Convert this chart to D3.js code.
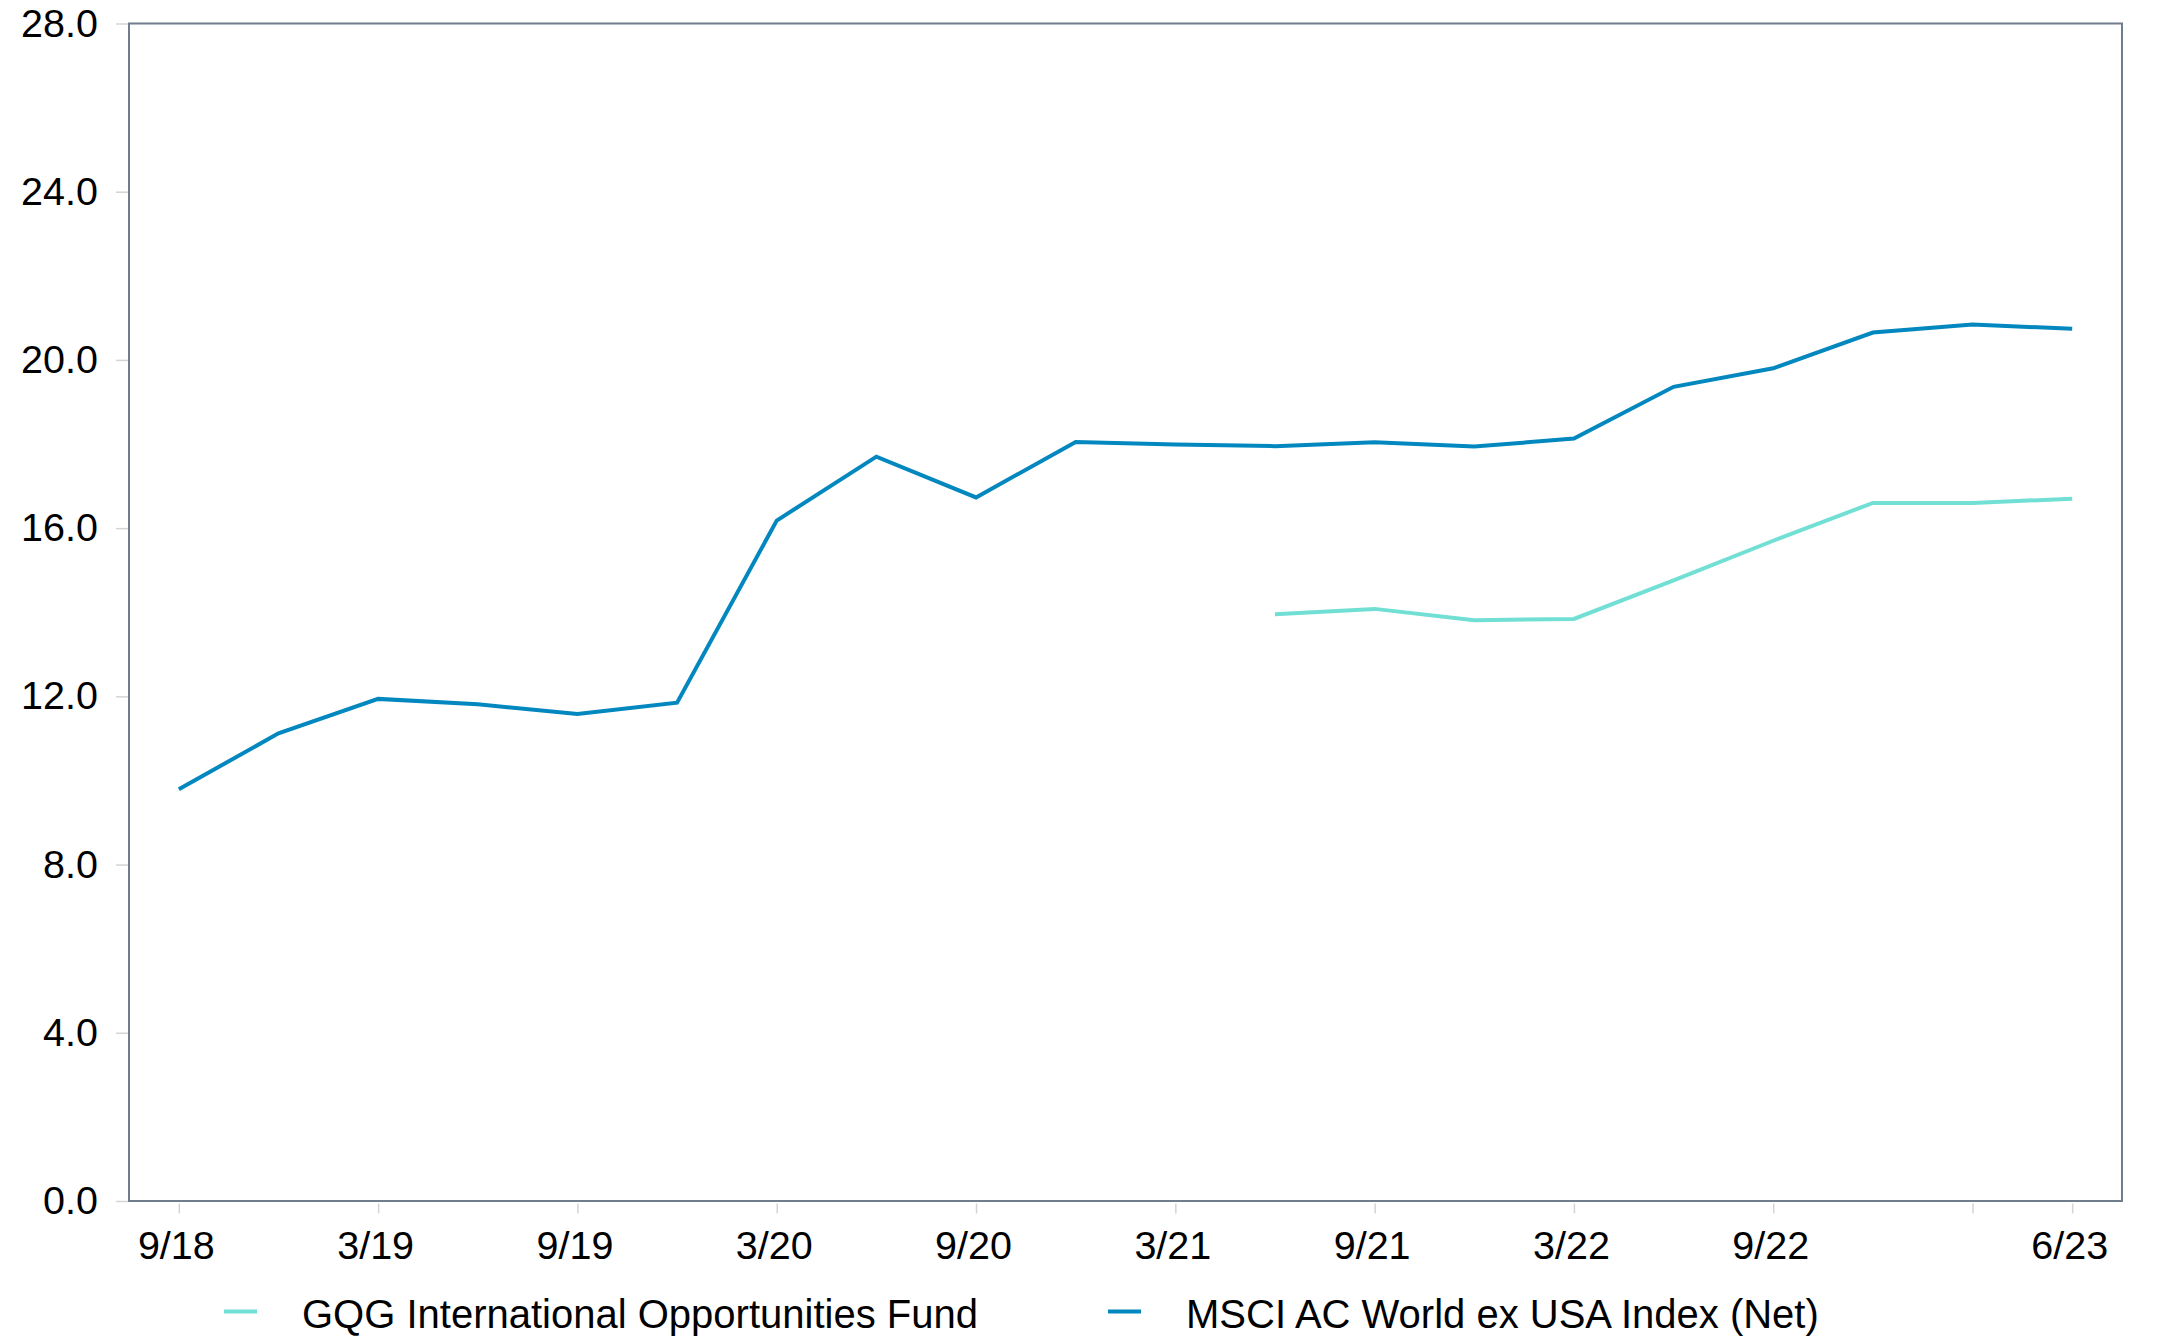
<!DOCTYPE html>
<html>
<head>
<meta charset="utf-8">
<script src="https://cdn.jsdelivr.net/npm/d3@7"></script>
<style>
  html, body { margin: 0; padding: 0; background: #fff; }
  svg { display: block; }
  text { font-family: "Liberation Sans", Arial, Helvetica, sans-serif; fill: #000; }
</style>
</head>
<body>
<svg id="chart" width="2179" height="1338"></svg>
<script>
// ---- data ----
const quarters = ["9/18","12/18","3/19","6/19","9/19","12/19","3/20","6/20","9/20","12/20",
                  "3/21","6/21","9/21","12/21","3/22","6/22","9/22","12/22","3/23","6/23"];
const msciValues = [9.79, 11.12, 11.94, 11.81, 11.58, 11.85, 16.18, 17.70, 16.73, 18.05,
                    17.99, 17.95, 18.04, 17.94, 18.13, 19.36, 19.80, 20.65, 20.84, 20.74];
const gqgValues = [null, null, null, null, null, null, null, null, null, null,
                   null, 13.95, 14.08, 13.81, 13.84, 14.76, 15.70, 16.60, 16.60, 16.70];
const xTickQuarters = ["9/18","3/19","9/19","3/20","9/20","3/21","9/21","3/22","9/22","3/23","6/23"];
const xTickLabels   = ["9/18","3/19","9/19","3/20","9/20","3/21","9/21","3/22","9/22","","6/23"];
const yTicks = [0, 4, 8, 12, 16, 20, 24, 28];
const seriesNames = ["GQG International Opportunities Fund", "MSCI AC World ex USA Index (Net)"];
const seriesColors = ["#72DFD5", "#0387BF"];

// ---- layout ----
const W = 2179, H = 1338;
const m = { left: 129, top: 23.5, right: 57, bottom: 137 };
const x0 = m.left, x1 = W - m.right, y0 = H - m.bottom, y1 = m.top;

const svg = d3.select("#chart");

const x = d3.scalePoint().domain(quarters).range([x0, x1]).padding(0.5);
const y = d3.scaleLinear().domain([0, 28]).range([y0, y1]);

// y axis ticks + labels
const yAxis = d3.axisLeft(y).tickValues(yTicks).tickFormat(d3.format(".1f")).tickSize(12).tickPadding(18);
const gy = svg.append("g").attr("transform", `translate(${x0 - 1},0)`).call(yAxis);
gy.select(".domain").remove();
gy.selectAll(".tick line").attr("stroke", "#d4d4d4").attr("stroke-width", 1.5);
gy.selectAll(".tick text").style("font-size", "39.5px").attr("fill", "#000");

// x axis ticks + labels
const xAxis = d3.axisBottom(x).tickValues(xTickQuarters)
  .tickFormat((d) => xTickLabels[xTickQuarters.indexOf(d)]).tickSize(10).tickPadding(17);
const gx = svg.append("g").attr("transform", `translate(0,${y0 + 2.5})`).call(xAxis);
gx.select(".domain").remove();
gx.selectAll(".tick line").attr("stroke", "#d4d4d4").attr("stroke-width", 1.5);
gx.selectAll(".tick text").style("font-size", "39.5px").attr("fill", "#000").attr("dx", "-3");

// frame
svg.append("rect")
  .attr("x", x0).attr("y", y1)
  .attr("width", x1 - x0).attr("height", y0 - y1)
  .attr("fill", "none").attr("stroke", "#6f7d8c").attr("stroke-width", 2);

// lines
const line = d3.line()
  .defined((d) => d.v !== null)
  .x((d) => x(d.q)).y((d) => y(d.v));

const allSeries = [gqgValues, msciValues];
allSeries.forEach((vals, i) => {
  const pts = quarters.map((q, k) => ({ q: q, v: vals[k] }));
  svg.append("path")
    .datum(pts)
    .attr("d", line)
    .attr("fill", "none")
    .attr("stroke", seriesColors[i])
    .attr("stroke-width", 4)
    .attr("stroke-linejoin", "miter");
});

// legend
const legendX = [224, 1108];
const legendY = 1311.5;
seriesNames.forEach((name, i) => {
  const g = svg.append("g").attr("transform", `translate(${legendX[i]},${legendY})`);
  g.append("line").attr("x1", 0).attr("x2", 33).attr("y1", 0).attr("y2", 0)
    .attr("stroke", seriesColors[i]).attr("stroke-width", 4);
  g.append("text").attr("x", 78).attr("y", 2).attr("dy", "0.35em")
    .style("font-size", "40px").text(name);
});
</script>
</body>
</html>
